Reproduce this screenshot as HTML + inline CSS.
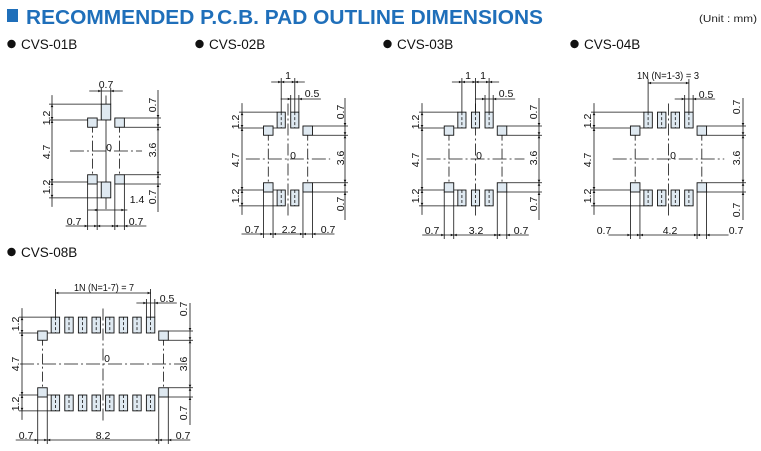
<!DOCTYPE html>
<html><head><meta charset="utf-8"><style>
html,body{margin:0;padding:0;background:#fff;width:761px;height:451px;overflow:hidden}
svg{display:block}
.d{font-family:"Liberation Sans",sans-serif;font-size:10.5px;fill:#111}
.h{font-family:"Liberation Sans",sans-serif;font-size:13.5px;fill:#111}
</style></head><body>
<svg id="g" width="761" height="451" viewBox="0 0 761 451" xmlns="http://www.w3.org/2000/svg">
<rect x="7" y="9" width="11" height="13" fill="#1f6fba"/>
<text x="26" y="24" font-family="Liberation Sans,sans-serif" font-weight="bold" font-size="20" fill="#1f6fba" textLength="517" lengthAdjust="spacingAndGlyphs">RECOMMENDED P.C.B. PAD OUTLINE DIMENSIONS</text>
<text x="699" y="22" font-family="Liberation Sans,sans-serif" font-size="10" fill="#222" textLength="58" lengthAdjust="spacingAndGlyphs">(Unit : mm)</text>
<circle cx="11.5" cy="44" r="4.2" fill="#111"/><text class="h" x="21" y="49">CVS-01B</text>
<circle cx="199.5" cy="44" r="4.2" fill="#111"/><text class="h" x="209" y="49">CVS-02B</text>
<circle cx="387.5" cy="44" r="4.2" fill="#111"/><text class="h" x="397" y="49">CVS-03B</text>
<circle cx="574.5" cy="44" r="4.2" fill="#111"/><text class="h" x="584" y="49">CVS-04B</text>
<circle cx="11.5" cy="252" r="4.2" fill="#111"/><text class="h" x="21" y="257">CVS-08B</text>

<text class="d" transform="translate(50,118) rotate(-90)" text-anchor="middle">1.2</text>
<text class="d" transform="translate(50,152) rotate(-90)" text-anchor="middle">4.7</text>
<text class="d" transform="translate(50,187) rotate(-90)" text-anchor="middle">1.2</text>
<text class="d" transform="translate(156,105) rotate(-90)" text-anchor="middle">0.7</text>
<text class="d" transform="translate(156,150) rotate(-90)" text-anchor="middle">3.6</text>
<text class="d" transform="translate(156,197) rotate(-90)" text-anchor="middle">0.7</text>
<text class="d" x="106" y="88" text-anchor="middle">0.7</text>
<text class="d" x="109" y="151" text-anchor="middle">0</text>
<text class="d" x="137" y="203" text-anchor="middle">1.4</text>
<text class="d" x="74" y="225" text-anchor="middle">0.7</text>
<text class="d" x="136" y="225" text-anchor="middle">0.7</text>
<text class="d" x="288" y="79" text-anchor="middle">1</text>
<text class="d" x="312" y="97" text-anchor="middle">0.5</text>
<text class="d" transform="translate(239,122) rotate(-90)" text-anchor="middle">1.2</text>
<text class="d" transform="translate(239,160) rotate(-90)" text-anchor="middle">4.7</text>
<text class="d" transform="translate(239,196) rotate(-90)" text-anchor="middle">1.2</text>
<text class="d" transform="translate(344,112) rotate(-90)" text-anchor="middle">0.7</text>
<text class="d" transform="translate(344,158) rotate(-90)" text-anchor="middle">3.6</text>
<text class="d" transform="translate(344,204) rotate(-90)" text-anchor="middle">0.7</text>
<text class="d" x="293" y="159" text-anchor="middle">0</text>
<text class="d" x="252" y="233" text-anchor="middle">0.7</text>
<text class="d" x="289" y="233" text-anchor="middle">2.2</text>
<text class="d" x="328" y="233" text-anchor="middle">0.7</text>
<text class="d" x="468" y="79" text-anchor="middle">1</text>
<text class="d" x="483" y="79" text-anchor="middle">1</text>
<text class="d" x="506" y="97" text-anchor="middle">0.5</text>
<text class="d" transform="translate(419,122) rotate(-90)" text-anchor="middle">1.2</text>
<text class="d" transform="translate(419,160) rotate(-90)" text-anchor="middle">4.7</text>
<text class="d" transform="translate(419,196) rotate(-90)" text-anchor="middle">1.2</text>
<text class="d" transform="translate(537,112) rotate(-90)" text-anchor="middle">0.7</text>
<text class="d" transform="translate(537,158) rotate(-90)" text-anchor="middle">3.6</text>
<text class="d" transform="translate(537,204) rotate(-90)" text-anchor="middle">0.7</text>
<text class="d" x="479" y="159" text-anchor="middle">0</text>
<text class="d" x="432" y="234" text-anchor="middle">0.7</text>
<text class="d" x="476" y="234" text-anchor="middle">3.2</text>
<text class="d" x="521" y="234" text-anchor="middle">0.7</text>
<text class="d" x="668" y="79" text-anchor="middle" textLength="62" lengthAdjust="spacingAndGlyphs">1N (N=1-3) = 3</text>
<text class="d" x="706" y="98" text-anchor="middle">0.5</text>
<text class="d" transform="translate(591,121) rotate(-90)" text-anchor="middle">1.2</text>
<text class="d" transform="translate(591,160) rotate(-90)" text-anchor="middle">4.7</text>
<text class="d" transform="translate(591,196) rotate(-90)" text-anchor="middle">1.2</text>
<text class="d" transform="translate(740,107) rotate(-90)" text-anchor="middle">0.7</text>
<text class="d" transform="translate(740,158) rotate(-90)" text-anchor="middle">3.6</text>
<text class="d" transform="translate(740,210) rotate(-90)" text-anchor="middle">0.7</text>
<text class="d" x="673" y="159" text-anchor="middle">0</text>
<text class="d" x="604" y="234" text-anchor="middle">0.7</text>
<text class="d" x="670" y="234" text-anchor="middle">4.2</text>
<text class="d" x="736" y="234" text-anchor="middle">0.7</text>
<text class="d" x="104" y="291" text-anchor="middle" textLength="60" lengthAdjust="spacingAndGlyphs">1N (N=1-7) = 7</text>
<text class="d" x="167" y="302" text-anchor="middle">0.5</text>
<text class="d" transform="translate(19,324) rotate(-90)" text-anchor="middle">1.2</text>
<text class="d" transform="translate(19,364) rotate(-90)" text-anchor="middle">4.7</text>
<text class="d" transform="translate(19,404) rotate(-90)" text-anchor="middle">1.2</text>
<text class="d" transform="translate(187,309) rotate(-90)" text-anchor="middle">0.7</text>
<text class="d" transform="translate(187,364) rotate(-90)" text-anchor="middle">3.6</text>
<text class="d" transform="translate(187,413) rotate(-90)" text-anchor="middle">0.7</text>
<text class="d" x="107" y="362" text-anchor="middle">0</text>
<text class="d" x="26" y="439" text-anchor="middle">0.7</text>
<text class="d" x="103" y="439" text-anchor="middle">8.2</text>
<text class="d" x="183" y="439" text-anchor="middle">0.7</text>
</svg>
<script>
var S=document.getElementById('g'),NS='http://www.w3.org/2000/svg';
function el(t,a){var e=document.createElementNS(NS,t);for(var k in a)e.setAttribute(k,a[k]);S.appendChild(e);return e;}
function ln(x1,y1,x2,y2,d){var a={x1:x1,y1:y1,x2:x2,y2:y2,stroke:'#111','stroke-width':0.8};if(d)a['stroke-dasharray']=d;el('line',a);}
function ar(x,y,dir){var s=3,p;
 if(dir=='r')p=[x,y,x-s,y-1.3,x-s,y+1.3];if(dir=='l')p=[x,y,x+s,y-1.3,x+s,y+1.3];
 if(dir=='d')p=[x,y,x-1.3,y-s,x+1.3,y-s];if(dir=='u')p=[x,y,x-1.3,y+s,x+1.3,y+s];
 el('polygon',{points:p.join(' '),fill:'#111'});}
function part(o){
 var sx=13.6,sy=13.2,cx=o.cx,cy=o.cy;
 var X=function(m){return cx+m*sx},Y=function(m){return cy+m*sy};
 var pos=[];for(var i=0;i<o.n;i++)pos.push(i-(o.n-1)/2);
 var pw=o.pw,vw=o.vw||pw,inn=o.inner,out=o.outer;
 ln(X(-out-1.3),cy,X(out+1.3),cy,'14 3 2 3');
 ln(cx,Y(-4.2),cx,Y(4.4),o.one?null:'12 3 2 3');
 [-1,1].forEach(function(s){var xc=X(s*(inn+out)/2);ln(xc,Y(-2.15),xc,Y(2.15),'10 3 2 3');});
 var L=o.L,R=o.R,B=o.B;
 var sl=X(pos[0]-vw/2);
 ln(L,Y(-3.55)-9,L,Y(3.55)+9);
 [-3.55,-2.35,2.35,3.55].forEach(function(m){ln(L-3,Y(m),o.one?X(-0.35):sl,Y(m));});
 ar(L,Y(-3.55),'u');ar(L,Y(-2.35),'d');ar(L,Y(-2.35),'u');ar(L,Y(2.35),'d');ar(L,Y(2.35),'u');ar(L,Y(3.55),'d');
 ln(R,Y(-2.5)-28,R,Y(2.5)+28);
 [-2.5,-1.8,1.8,2.5].forEach(function(m){ln(X(out),Y(m),R+3,Y(m));});
 ar(R,Y(-2.5),'d');ar(R,Y(-1.8),'u');ar(R,Y(-1.8),'d');ar(R,Y(1.8),'u');ar(R,Y(1.8),'d');ar(R,Y(2.5),'u');
 ln(X(-out)-22,B,X(out)+22,B);
 [-out,-inn,inn,out].forEach(function(m){ln(X(m),Y(2.5),X(m),B+4);});
 ar(X(-out),B,'r');ar(X(-inn),B,'l');ar(X(-inn),B,'r');ar(X(inn),B,'l');ar(X(inn),B,'r');ar(X(out),B,'l');
 [-1,1].forEach(function(s){[-1,1].forEach(function(v){
  el('rect',{x:s<0?X(-out):X(inn),y:v<0?Y(-2.5):Y(1.8),width:(out-inn)*sx,height:0.7*sy,fill:'#dfe9f1',stroke:'#111','stroke-width':0.9});});});
 pos.forEach(function(p){[-1,1].forEach(function(v){
  el('rect',{x:X(p-vw/2),y:v<0?Y(-3.55):Y(2.35),width:vw*sx,height:1.2*sy,fill:'#dfe9f1',stroke:'#111','stroke-width':0.9});
  if(!o.one) ln(X(p),v<0?Y(-3.55):Y(2.35),X(p),v<0?Y(-2.35):Y(3.55),'3 2');
 });});
 var T=o.T;
 if(o.one){
  ln(X(-0.35),Y(-3.55),X(-0.35),T-3);ln(X(0.35),Y(-3.55),X(0.35),T-3);
  ln(X(-0.35)-12,T,X(0.35)+12,T);ar(X(-0.35),T,'r');ar(X(0.35),T,'l');
  ln(X(-1.35),B-16,X(1.35)+3,B-16);ar(X(-1.35)+6,B-16,'l');ar(X(1.35),B-16,'r');
 } else {
  var a=pos[0],b=pos[pos.length-1];
  if(o.pitch=='each'){ln(X(a)-10,T,X(b)+10,T);pos.forEach(function(p){ln(X(p),Y(-3.55),X(p),T-4);ar(X(p),T,'l');ar(X(p),T,'r');});}
  else{ln(X(a),T,X(b),T);ln(X(a),Y(-3.55),X(a),T-4);ln(X(b),Y(-3.55),X(b),T-4);ar(X(a),T,'l');ar(X(b),T,'r');}
  var lp=b,T2=o.T2;
  ln(X(lp-vw/2),Y(-3.55),X(lp-vw/2),T2-4);ln(X(lp+vw/2),Y(-3.55),X(lp+vw/2),T2-4);
  ln(X(lp-vw/2)-10,T2,X(lp+vw/2)+22,T2);ar(X(lp-vw/2),T2,'r');ar(X(lp+vw/2),T2,'l');
 }
}
part({cx:106,cy:151,n:1,pw:0.7,inner:0.65,outer:1.35,L:52,R:158,B:226,T:91,one:true});
part({cx:288,cy:159,n:2,pw:0.5,vw:0.6,inner:1.1,outer:1.8,L:242,R:345,B:234,T:82,T2:99,pitch:'each'});
part({cx:475.5,cy:159,n:3,pw:0.5,vw:0.6,inner:1.6,outer:2.3,L:422,R:539,B:235,T:82,T2:99,pitch:'each'});
part({cx:668.5,cy:159,n:4,pw:0.5,vw:0.62,inner:2.1,outer:2.8,L:594,R:743,B:235,T:83,T2:99,pitch:'span'});
part({cx:103,cy:364,n:8,pw:0.5,vw:0.62,inner:4.1,outer:4.8,L:22,R:190,B:440,T:293,T2:303,pitch:'span'});
</script>
</body></html>
